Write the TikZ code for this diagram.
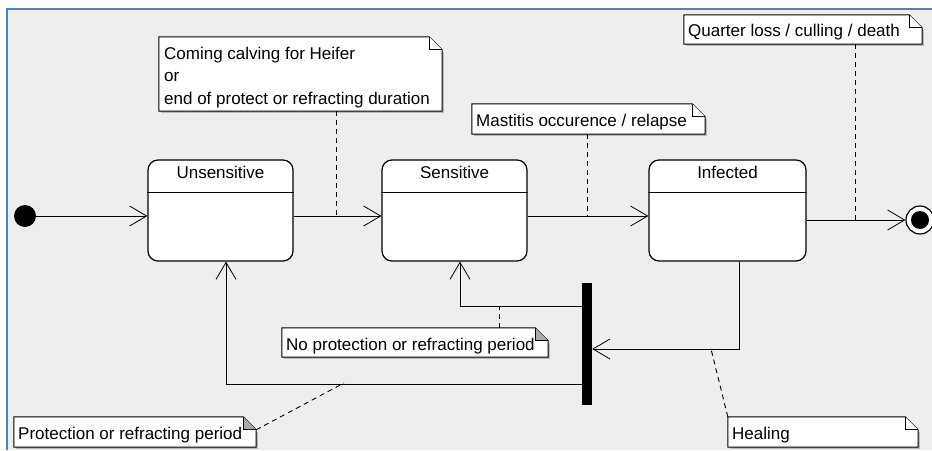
\documentclass[tikz,border=0pt]{standalone}
\usepackage{fontspec}
\setmainfont{Liberation Sans}
\usetikzlibrary{arrows.meta,calc}
\definecolor{bgc}{HTML}{EEEEEE}
\definecolor{framec}{RGB}{79,129,189}
\definecolor{foldc}{HTML}{AAAAAA}
\pgfdeclarelayer{bg}
\pgfdeclarelayer{mid}
\pgfsetlayers{bg,mid,main}
\begin{document}
\begin{tikzpicture}[x=1pt,y=-1pt,
  font=\fontsize{17}{22.3}\selectfont,
  state/.style={draw, line width=1.2pt, fill=white, rounded corners=10pt, minimum height=101pt, inner sep=0pt},
  notebox/.style={draw=none, inner sep=0pt},
  ntext/.style={inner sep=0pt},
  tr/.style={line width=1pt, -{Straight Barb[length=17pt,width=20pt,line width=0.8pt]}},
  nl/.style={line width=0.9pt, dash pattern=on 5pt off 4pt}]
\useasboundingbox (0,0) rectangle (932,450);
\begin{pgfonlayer}{bg}
\fill[white] (0,0) rectangle (932,450);
\fill[bgc] (8,10) rectangle (932,450);
\draw[framec, line width=2pt] (7,450) -- (7,9) -- (932,9);
\end{pgfonlayer}

% states
\node[state, minimum width=145pt] (uns) at (220.5,210.5) {};
\node[state, minimum width=145pt] (sen) at (454.5,210.5) {};
\node[state, minimum width=157pt] (inf) at (727.5,210.5) {};
\foreach \s in {uns,sen,inf} {
  \draw[line width=1.2pt] ([yshift=-33pt]\s.north west) -- ([yshift=-33pt]\s.north east);
}
\node[ntext, anchor=base] (unsl) at ([yshift=-19.3pt]uns.north) {Unsensitive};
\node[ntext, anchor=base] (senl) at ([yshift=-19.3pt]sen.north) {Sensitive};
\node[ntext, anchor=base] (infl) at ([yshift=-19.3pt]inf.north) {Infected};

\node[circle, fill=black, minimum size=22pt, inner sep=0pt] (init) at (25,216) {};
\node[circle, draw=black, line width=1.2pt, fill=white, minimum size=28pt, inner sep=0pt] (fin) at (920,220) {};
\node[circle, fill=black, minimum size=18pt, inner sep=0pt] (finc) at (fin) {};
\node[fill=black, minimum width=10pt, minimum height=122pt, inner sep=0pt] (bar) at (587,344) {};

% notes
\node[notebox, minimum width=283pt, minimum height=74pt] (n1) at (300.5,74) {};
\node[notebox, minimum width=233pt, minimum height=30pt] (n2) at (588.5,119) {};
\node[notebox, minimum width=238pt, minimum height=29pt] (n3) at (803,29.5) {};
\node[notebox, minimum width=266pt, minimum height=29pt] (n4) at (415,342.5) {};
\node[notebox, minimum width=242pt, minimum height=30pt] (n5) at (135,432) {};
\node[notebox, minimum width=190pt, minimum height=30pt] (n6) at (823,432) {};
\begin{pgfonlayer}{mid}
\foreach \n/\f in {n1/white,n2/white,n3/white,n4/foldc,n5/foldc,n6/white} {
  \fill[gray!55] ([shift={(2pt,-2pt)}]\n.south west) rectangle ([shift={(2pt,-15pt)}]\n.north east);
  \draw[fill=white, line width=1pt] (\n.south west) -- (\n.south east) -- ([yshift=-13pt]\n.north east) -- ([xshift=-13pt]\n.north east) -- (\n.north west) -- cycle;
  \draw[fill=\f, line width=1pt] ([xshift=-13pt]\n.north east) -- ([xshift=-13pt,yshift=-13pt]\n.north east) -- ([yshift=-13pt]\n.north east);
}
\end{pgfonlayer}
\node[ntext, anchor=north west, align=left] (t1) at (164,46.9) {Coming calving for Heifer\\or\\end of protect or refracting duration};
\node[ntext, anchor=base west] (t2) at (476,126) {Mastitis occurence / relapse};
\node[ntext, anchor=base west] (t3) at (688,36) {Quarter loss / culling / death};
\node[ntext, anchor=base west] (t4) at (286,350) {No protection or refracting period};
\node[ntext, anchor=base west] (t5) at (18,439.3) {Protection or refracting period};
\node[ntext, anchor=base west] (t6) at (732,439.3) {Healing};

% transitions
\draw[tr] (init.east) -- (init -| uns.west);
\draw[tr] ([yshift=-5.5pt]uns.east) -- ([yshift=-5.5pt]sen.west);
\draw[tr] ([yshift=-5.5pt]sen.east) -- ([yshift=-5.5pt]inf.west);
\draw[tr] (fin -| inf.east) -- (fin.west);
\draw[tr] ([xshift=11.5pt]inf.south) |- ([yshift=-5pt]bar.east);
\draw[tr] ([yshift=38pt]bar.west) -| ([xshift=5.5pt]sen.south);
\draw[tr] ([yshift=-40pt]bar.west) -| ([xshift=5.5pt]uns.south);

% note links
\coordinate (c1) at (336,216);
\coordinate (c2) at (587,216);
\coordinate (c3) at (855,220);
\coordinate (c4) at (499,306);
\coordinate (c5) at (344,383);
\coordinate (c6) at (711,349);
\draw[nl] (n1.south -| c1) -- (c1);
\draw[nl] (n2.south -| c2) -- (c2);
\draw[nl] (n3.south -| c3) -- (c3);
\draw[nl] (n4.north -| c4) -- (c4);
\draw[nl] ([yshift=-13pt]n5.north east) -- (c5);
\draw[nl] (n6.north west) -- (c6);
\end{tikzpicture}
\end{document}
